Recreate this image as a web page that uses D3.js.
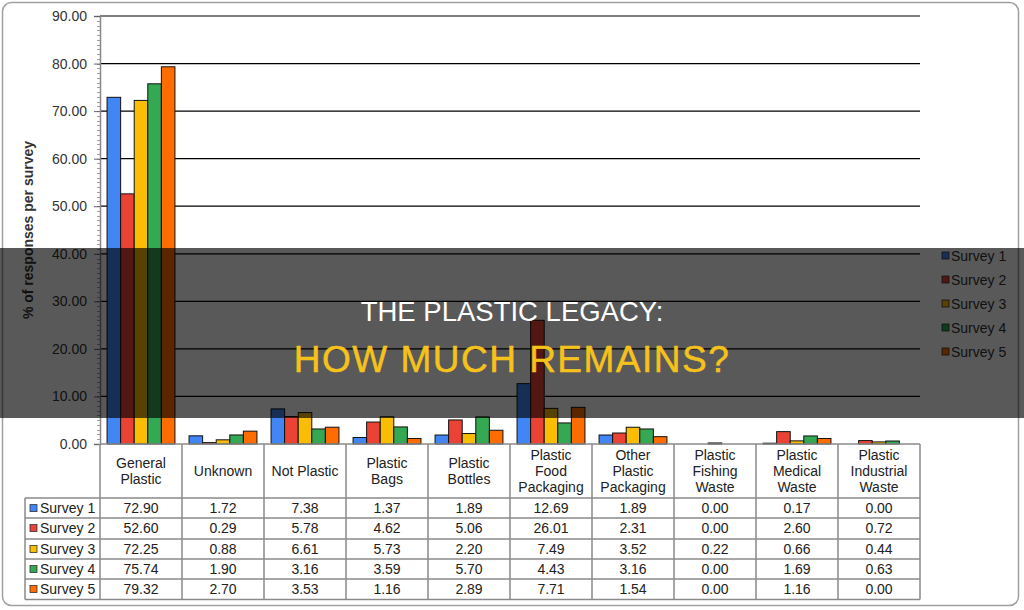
<!DOCTYPE html>
<html><head><meta charset="utf-8">
<script src="https://cdn.jsdelivr.net/npm/d3@7"></script>
<style>body{margin:0;background:#fff}svg{display:block}text{font-family:"Liberation Sans",Arial,sans-serif}</style>
</head><body>
<svg id="c" width="1024" height="610"></svg>
<script>
const categories = [["General","Plastic"],["Unknown"],["Not Plastic"],["Plastic","Bags"],["Plastic","Bottles"],["Plastic","Food","Packaging"],["Other","Plastic","Packaging"],["Plastic","Fishing","Waste"],["Plastic","Medical","Waste"],["Plastic","Industrial","Waste"]];
const seriesNames = ["Survey 1","Survey 2","Survey 3","Survey 4","Survey 5"];
const survey1 = [72.90,1.72,7.38,1.37,1.89,12.69,1.89,0.00,0.17,0.00];
const survey2 = [52.60,0.29,5.78,4.62,5.06,26.01,2.31,0.00,2.60,0.72];
const survey3 = [72.25,0.88,6.61,5.73,2.20,7.49,3.52,0.22,0.66,0.44];
const survey4 = [75.74,1.90,3.16,3.59,5.70,4.43,3.16,0.00,1.69,0.63];
const survey5 = [79.32,2.70,3.53,1.16,2.89,7.71,1.54,0.00,1.16,0.00];
const yTicks = [0,10,20,30,40,50,60,70,80,90];
const colors = ["#4285F4","#EA4335","#FBBC04","#34A853","#FF6D01"];
const series = [survey1,survey2,survey3,survey4,survey5];

const svg = d3.select("#c");
const L = 100, R = 920, T = 16, B = 444;
svg.append("rect").attr("x",2.5).attr("y",2.5).attr("width",1016).attr("height",603).attr("rx",9)
  .attr("fill","#fff").attr("stroke","#a0a0a0").attr("stroke-width",1.5);

const x = d3.scaleBand().domain(d3.range(categories.length)).range([L,R]);
const xi = d3.scaleBand().domain(d3.range(series.length)).range([0,x.bandwidth()]).paddingOuter(0.52);
const y = d3.scaleLinear().domain([0,90]).range([B,T]);

svg.append("g").selectAll("line").data(yTicks.filter(d=>d>0)).join("line")
  .attr("x1",L).attr("x2",R).attr("y1",d=>y(d)).attr("y2",d=>y(d))
  .attr("stroke","#000").attr("stroke-width",1.2);

svg.append("g").selectAll("line").data(d3.range(0,91,1)).join("line")
  .attr("x1",L-3).attr("x2",L).attr("y1",d=>Math.round(y(d))+0.5).attr("y2",d=>Math.round(y(d))+0.5)
  .attr("stroke","#888").attr("stroke-width",0.8);

const yAxis = d3.axisLeft(y).tickValues(yTicks).tickFormat(d3.format(".2f")).tickSize(6).tickPadding(7);
const ga = svg.append("g").attr("transform",`translate(${L},0)`).call(yAxis);
ga.select(".domain").attr("stroke","#888").attr("stroke-width",1.5);
ga.selectAll(".tick line").attr("stroke","#666");
ga.selectAll("text").attr("font-size",14).attr("fill","#333").attr("font-family","Liberation Sans, Arial, sans-serif");

svg.append("text").attr("transform",`translate(33,${(T+B)/2}) rotate(-90)`).attr("text-anchor","middle")
  .attr("font-size",14).attr("font-weight","bold").attr("fill","#333").text("% of responses per survey");

series.forEach((s,si)=>{
  svg.append("g").selectAll("rect").data(s.map((v,ci)=>({v,ci}))).join("rect")
    .filter(d=>d.v>0)
    .attr("x",d=>x(d.ci)+xi(si)).attr("width",xi.bandwidth())
    .attr("y",d=>y(d.v)).attr("height",d=>B-y(d.v))
    .attr("fill",colors[si]).attr("stroke","#111").attr("stroke-width",1);
});

const lg = svg.append("g");
seriesNames.forEach((n,i)=>{
  const yy = 256 + i*24;
  lg.append("rect").attr("x",942).attr("y",yy-4).attr("width",7).attr("height",7).attr("fill",colors[i]).attr("stroke","#333").attr("stroke-width",0.8);
  lg.append("text").attr("x",951).attr("y",yy+5).attr("font-size",14).attr("fill","#333").text(n);
});

const tb = svg.append("g");
const rowTop = [498,518,539,559,579], rowH = 20.2, tableBottom = 599.5;
const stroke = "#8a8a8a";
categories.forEach((c,ci)=>{
  const cx = x(ci)+x.bandwidth()/2;
  const n = c.length;
  const mid = (B+498)/2;
  const lh = 16;
  c.forEach((line,li)=>{
    tb.append("text").attr("x",cx).attr("y",mid + (li-(n-1)/2)*lh + 5)
      .attr("text-anchor","middle").attr("font-size",14).attr("fill","#222").text(line);
  });
});
seriesNames.forEach((n,si)=>{
  const cy = rowTop[si] + rowH/2;
  tb.append("rect").attr("x",30).attr("y",cy-3.5).attr("width",7).attr("height",7).attr("fill",colors[si]).attr("stroke","#333").attr("stroke-width",0.8);
  tb.append("text").attr("x",40).attr("y",cy+5).attr("font-size",14).attr("fill","#222").text(n);
  series[si].forEach((v,ci)=>{
    tb.append("text").attr("x",x(ci)+x.bandwidth()/2).attr("y",cy+5).attr("text-anchor","middle")
      .attr("font-size",14).attr("fill","#222").text(d3.format(".2f")(v));
  });
});
const vx = [L].concat(d3.range(categories.length).map(i=>x(i)+x.bandwidth()));
vx.forEach(v=>tb.append("line").attr("x1",v).attr("x2",v).attr("y1",B).attr("y2",tableBottom).attr("stroke",stroke).attr("stroke-width",1.5));
tb.append("line").attr("x1",25).attr("x2",25).attr("y1",498).attr("y2",tableBottom).attr("stroke",stroke).attr("stroke-width",1.5);
tb.append("line").attr("x1",L).attr("x2",R).attr("y1",B).attr("y2",B).attr("stroke",stroke).attr("stroke-width",1.5);
rowTop.concat([tableBottom]).forEach(h=>tb.append("line").attr("x1",25).attr("x2",R).attr("y1",h).attr("y2",h).attr("stroke",stroke).attr("stroke-width",1.5));

svg.append("rect").attr("x",0).attr("y",248).attr("width",1024).attr("height",170).attr("fill","rgba(0,0,0,0.65)");
svg.append("text").attr("x",512).attr("y",321).attr("text-anchor","middle").attr("font-size",27.5)
  .attr("fill","#fff").attr("font-family","Liberation Sans, Arial, sans-serif").text("THE PLASTIC LEGACY:");
svg.append("text").attr("x",512).attr("y",372).attr("text-anchor","middle").attr("font-size",37)
  .attr("letter-spacing","1.5px").attr("fill","#F5C21B").attr("stroke","#F5C21B").attr("stroke-width",0.5)
  .attr("font-family","Liberation Sans, Arial, sans-serif").text("HOW MUCH REMAINS?");
</script>
</body></html>
